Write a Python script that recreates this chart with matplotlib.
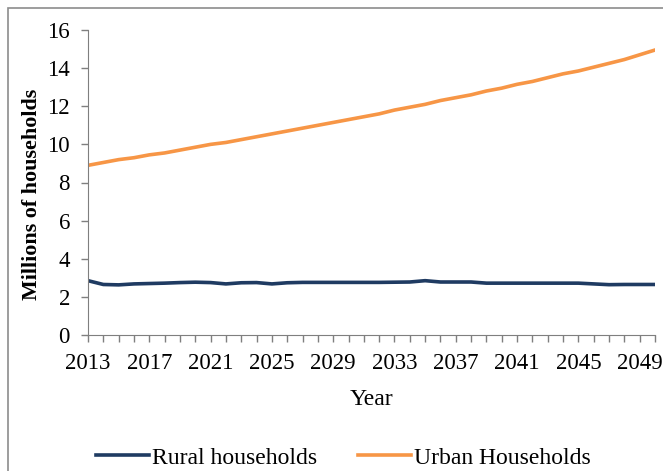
import numpy as np
import matplotlib.pyplot as plt
from matplotlib.patches import Rectangle

years = list(range(2013, 2051))
rural = [2.85, 2.65, 2.63, 2.68, 2.70, 2.72, 2.75, 2.77, 2.75, 2.68,
         2.74, 2.75, 2.68, 2.74, 2.76, 2.76, 2.76, 2.76, 2.76, 2.76,
         2.77, 2.78, 2.85, 2.78, 2.78, 2.78, 2.72, 2.72, 2.72, 2.72,
         2.72, 2.72, 2.72, 2.68, 2.64, 2.65, 2.65, 2.65]
urban = [8.90, 9.05, 9.20, 9.30, 9.45, 9.55, 9.70, 9.85, 10.00, 10.10,
         10.25, 10.40, 10.55, 10.70, 10.85, 11.00, 11.15, 11.30, 11.45, 11.60,
         11.80, 11.95, 12.10, 12.30, 12.45, 12.60, 12.80, 12.95, 13.15, 13.30,
         13.50, 13.70, 13.85, 14.05, 14.25, 14.45, 14.70, 14.95]
labels = ['Rural households', 'Urban Households']

plt.rcParams['font.family'] = 'Liberation Serif'

fig = plt.figure(figsize=(6.63, 4.71), dpi=100)
# outer frame of the chart area
fig.patches.append(Rectangle((8 / 663, -0.1), 1.2, 1 - 8 / 471 + 0.1,
                             transform=fig.transFigure, fill=False,
                             edgecolor='#8c8c8c', linewidth=1.2))

ax = fig.add_axes([88 / 663, 1 - 335 / 471, (655 - 88) / 663, (335 - 30) / 471])
ax.plot(years, rural, color='#1F3B62', linewidth=2.6, label=labels[0])
ax.plot(years, urban, color='#F79646', linewidth=2.6, label=labels[1])

ax.set_xlim(2013, 2050)
ax.set_ylim(0, 16)
ax.set_yticks(range(0, 17, 2))
ax.set_xticks(range(2013, 2050, 4))
ax.set_xticks(years, minor=True)
ax.tick_params(axis='both', which='both', direction='out', color='#7f7f7f',
               labelsize=16.5, width=1, pad=8)
ax.tick_params(axis='both', which='major', length=5)
ax.tick_params(axis='x', which='minor', length=5)

for s in ['top', 'right']:
    ax.spines[s].set_visible(False)
for s in ['left', 'bottom']:
    ax.spines[s].set_color('#7f7f7f')

ax.set_xlabel('Year', fontsize=17, labelpad=11)
ax.set_ylabel('Millions of households', fontsize=15.8, fontweight='bold')
ax.yaxis.set_label_coords(-0.082, 0.46)

ax.legend(loc='center', bbox_to_anchor=(0.518, 0.028), bbox_transform=fig.transFigure,
          ncol=2, frameon=False, fontsize=17, handlelength=2.25,
          columnspacing=1.7, handletextpad=0.15)

plt.savefig('out.png', dpi=100)
